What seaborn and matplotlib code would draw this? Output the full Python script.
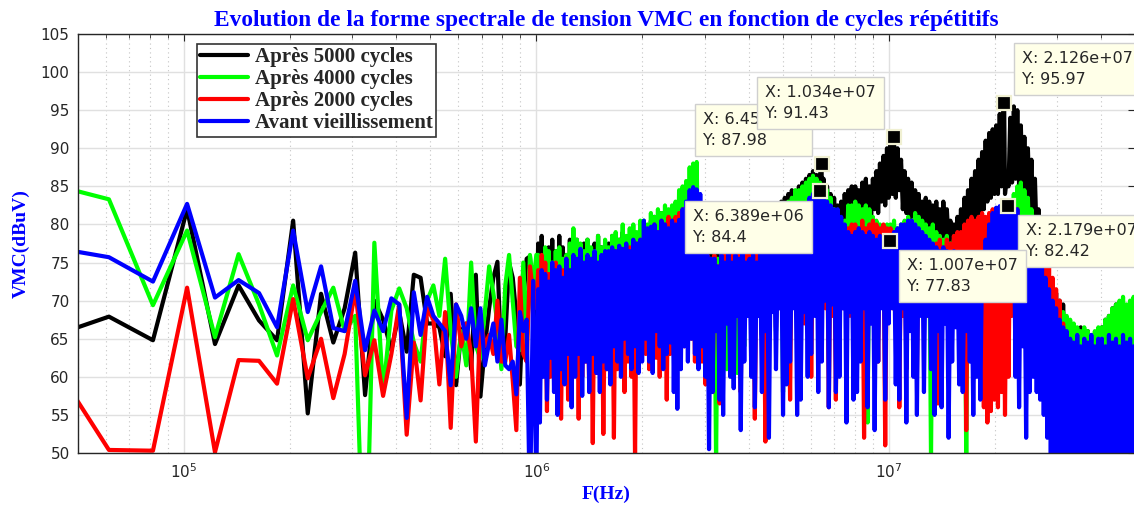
import numpy as np
import pandas as pd
import matplotlib
matplotlib.use("Agg")
import matplotlib.pyplot as plt
import seaborn as sns

SERIES = ["Après 5000 cycles", "Après 4000 cycles", "Après 2000 cycles", "Avant vieillissement"]
COLORS = ["#000000", "#00ff00", "#ff0000", "#0000ff"]

# Low-frequency harmonics: FFT bins k = 2..49, 20.4 kHz resolution
BIN_HZ = 20.4e3
LOW_BINS = np.arange(2, 50)

black_low = [65.1, 67.9, 64.8, 82.0, 64.3, 72.0, 67.4, 64.8, 80.5, 55.2,
             70.9, 64.5, 69.0, 76.3, 57.6, 70.0, 67.5, 63.5, 68.5, 63.3,
             73.4, 73.0, 67.0, 67.0, 66.5, 62.7, 70.9, 58.9, 66.0, 67.0,
             61.0, 73.4, 57.4, 64.0, 69.0, 73.0, 75.1, 62.1, 65.0, 75.0,
             73.0, 68.0, 59.0, 70.0, 75.5, 75.8, 68.0, 65.0]
green_low = [85.4, 83.3, 69.4, 79.2, 65.2, 76.1, 69.5, 62.8, 72.0, 64.8,
             68.5, 71.7, 66.0, 68.0, 28.0, 77.6, 58.0, 68.7, 71.6, 69.0,
             64.5, 62.0, 70.0, 72.0, 68.0, 75.5, 66.0, 60.0, 66.0, 61.5,
             75.0, 64.0, 62.5, 68.5, 74.5, 71.0, 67.0, 61.0, 72.0, 76.0,
             70.0, 64.0, 63.5, 75.0, 64.0, 76.0, 72.0, 76.0]
red_low = [63.1, 50.4, 50.3, 71.7, 50.1, 62.2, 62.1, 59.1, 70.2, 59.8,
           65.0, 57.2, 63.0, 71.4, 60.2, 64.8, 57.5, 63.0, 69.5, 52.4,
           64.5, 56.9, 69.0, 67.5, 59.0, 68.5, 53.3, 69.5, 64.0, 67.0,
           63.0, 51.5, 67.8, 64.0, 65.5, 63.0, 70.0, 62.0, 62.0, 65.5,
           59.5, 53.0, 73.0, 63.0, 62.0, 74.5, 71.0, 69.0]
blue_low = [77.1, 75.7, 72.5, 82.7, 70.4, 72.7, 71.0, 66.5, 79.2, 68.5,
            74.5, 66.4, 66.0, 72.6, 63.5, 68.7, 66.0, 70.3, 69.5, 54.6,
            71.1, 65.5, 70.5, 68.0, 67.0, 66.0, 58.9, 69.5, 68.0, 65.0,
            69.0, 64.0, 69.0, 61.5, 64.5, 67.0, 62.0, 67.5, 61.5, 61.0,
            62.0, 57.7, 68.5, 66.0, 67.5, 42.0, 72.6, 45.0]

# High-frequency part: one value every 0.005 decade, 10^6.005 Hz .. 10^7.70 Hz
# (each row below covers one tenth of a decade)
HF_LOG10 = 6.005 + 0.005 * np.arange(340)

black_hf = [
    77.5, 66.0, 78.5, 68.0, 76.0, 65.0, 77.0, 69.0, 78.0, 66.5, 76.5, 67.0, 78.5, 65.5, 77.0, 68.5, 76.0, 66.0, 78.0, 67.5,
    77.0, 66.0, 78.0, 68.5, 76.5, 65.0, 77.5, 67.0, 78.0, 66.5, 76.0, 68.0, 77.5, 65.5, 78.5, 67.0, 77.0, 69.0, 76.5, 66.0,
    77.5, 68.0, 78.5, 67.0, 77.0, 69.5, 78.0, 68.0, 79.0, 70.0, 77.5, 67.5, 78.5, 69.0, 79.0, 68.5, 78.0, 70.0, 79.5, 69.0,
    80.0, 71.0, 79.5, 70.5, 80.5, 72.0, 81.0, 71.0, 80.0, 72.5, 81.5, 71.5, 80.5, 73.0, 81.0, 72.0, 82.0, 72.5, 81.5, 73.0,
    81.5, 73.0, 82.0, 72.0, 82.5, 74.0, 81.0, 73.0, 82.0, 72.5, 81.5, 73.5, 80.5, 72.0, 79.0, 71.0, 78.0, 70.0, 77.0, 69.5,
    76.5, 70.0, 77.5, 69.5, 77.0, 71.0, 78.0, 70.0, 77.0, 71.5, 78.0, 70.5, 78.5, 72.0, 77.5, 71.0, 78.5, 72.5, 79.0, 71.5,
    79.5, 72.0, 80.0, 73.0, 80.5, 72.5, 80.0, 74.0, 81.0, 73.0, 81.5, 74.5, 81.0, 74.0, 82.0, 75.0, 82.5, 74.5, 83.0, 76.0,
    83.5, 76.5, 84.0, 77.0, 84.5, 78.0, 84.0, 77.5, 85.0, 78.5, 85.5, 79.0, 86.0, 79.5, 86.5, 80.0, 87.0, 80.5, 86.5, 81.0,
    86.5, 80.0, 86.0, 81.0, 85.0, 80.5, 84.0, 79.0, 83.5, 78.5, 82.5, 79.0, 83.0, 78.0, 84.0, 79.5, 84.5, 78.5, 85.0, 79.0,
    85.0, 79.5, 84.5, 80.0, 85.5, 81.0, 86.0, 80.5, 85.0, 81.0, 86.0, 82.0, 87.0, 81.5, 88.0, 83.0, 89.0, 82.5, 90.0, 83.5,
    90.5, 84.0, 91.0, 83.5, 90.0, 84.5, 88.5, 82.0, 87.0, 81.5, 86.0, 80.5, 85.5, 81.0, 84.5, 80.0, 84.0, 79.5, 83.0, 80.0,
    83.5, 78.0, 83.0, 77.5, 82.5, 79.0, 83.0, 78.0, 82.0, 77.0, 83.0, 78.5, 82.0, 77.5, 80.5, 76.5, 80.0, 77.0, 81.0, 76.5,
    82.0, 77.0, 83.5, 78.0, 84.5, 79.0, 86.0, 80.0, 87.0, 80.5, 88.5, 81.5, 89.5, 82.0, 91.0, 83.0, 92.0, 83.5, 92.5, 84.0,
    93.0, 84.0, 94.5, 85.0, 95.0, 84.0, 86.0, 85.0, 94.0, 85.5, 95.5, 86.0, 95.0, 85.0, 93.0, 84.0, 91.5, 83.0, 90.0, 82.0,
    88.5, 81.0, 86.0, 78.0, 82.0, 75.0, 77.0, 72.0, 74.0, 68.0, 72.0, 66.0, 71.5, 64.0, 71.0, 63.0, 70.0, 62.0, 69.5, 61.0,
    67.5, 61.0, 67.0, 60.0, 66.5, 61.5, 66.0, 59.5, 66.5, 60.0, 65.5, 61.0, 66.0, 60.5, 65.0, 59.0, 65.5, 60.0, 66.0, 61.0,
    66.5, 60.0, 67.5, 61.0, 68.0, 62.0, 69.0, 61.5, 69.5, 62.0, 68.5, 61.0, 69.0, 62.5, 68.0, 61.0, 68.5, 62.0, 67.5, 61.0]
green_hf = [
    76.0, 63.0, 75.5, 65.0, 77.0, 62.0, 76.5, 64.5, 75.0, 63.5, 76.5, 61.5, 77.0, 64.0, 75.5, 66.0, 76.0, 62.5, 77.5, 64.0,
    79.5, 65.0, 78.0, 62.5, 77.5, 66.0, 76.5, 63.0, 78.0, 65.0, 77.0, 64.0, 76.5, 62.0, 78.5, 65.5, 77.0, 63.5, 78.0, 66.0,
    77.0, 64.0, 78.5, 66.5, 79.0, 65.0, 78.0, 67.0, 80.0, 66.0, 78.5, 64.5, 79.5, 67.0, 80.0, 65.5, 79.0, 68.0, 80.5, 66.5,
    80.5, 68.0, 80.0, 67.5, 81.5, 69.0, 81.0, 67.0, 82.0, 68.5, 81.5, 70.0, 82.5, 69.0, 82.0, 68.0, 82.5, 70.5, 83.0, 69.5,
    84.5, 70.0, 85.0, 71.0, 85.7, 70.5, 87.5, 71.5, 88.0, 72.0, 88.2, 70.0, 80.0, 68.0, 76.0, 60.0, 75.0, 66.0, 74.5, 62.0,
    75.0, 49.0, 75.5, 64.0, 76.0, 67.0, 74.5, 61.0, 76.5, 68.0, 75.0, 65.0, 76.0, 60.5, 77.0, 67.5, 76.5, 64.0, 77.5, 69.0,
    78.0, 69.0, 78.5, 66.0, 79.5, 71.0, 78.5, 65.5, 79.0, 70.0, 80.0, 67.0, 80.5, 72.0, 81.0, 66.0, 81.5, 70.5, 82.0, 58.0,
    82.5, 72.0, 83.0, 73.5, 83.5, 71.0, 84.5, 74.0, 84.5, 72.5, 85.0, 75.0, 85.5, 73.0, 86.0, 74.5, 86.4, 75.0, 86.0, 74.0,
    85.5, 75.0, 85.0, 76.0, 84.5, 74.0, 83.5, 75.5, 82.0, 73.0, 80.0, 72.0, 79.0, 73.5, 80.5, 74.0, 82.5, 75.0, 82.5, 73.0,
    83.0, 76.0, 82.5, 74.0, 82.0, 75.5, 82.5, 54.0, 82.0, 74.0, 81.0, 75.0, 80.5, 73.5, 80.0, 74.5, 79.5, 73.0, 80.0, 74.0,
    80.0, 74.0, 80.5, 73.0, 79.5, 74.5, 80.0, 72.5, 80.5, 75.0, 81.0, 73.0, 80.5, 74.0, 81.5, 72.0, 81.0, 74.5, 80.5, 73.0,
    80.0, 73.5, 79.5, 49.0, 80.0, 72.0, 79.0, 71.5, 78.5, 73.0, 78.0, 70.0, 78.5, 72.0, 77.5, 71.0, 78.0, 70.5, 77.5, 71.0,
    78.5, 72.0, 79.5, 49.0, 80.0, 73.0, 80.5, 72.5, 79.5, 74.0, 80.0, 73.0, 79.5, 74.5, 80.0, 75.0, 80.5, 74.0, 81.0, 75.0,
    81.0, 74.0, 81.5, 75.0, 82.0, 76.0, 82.5, 75.5, 83.0, 76.5, 84.0, 75.5, 85.0, 77.0, 85.5, 76.0, 84.5, 77.0, 83.5, 76.0,
    82.0, 74.5, 80.0, 73.0, 77.0, 71.0, 74.0, 67.0, 71.5, 64.0, 71.0, 56.5, 70.5, 63.0, 69.5, 62.0, 69.0, 61.5, 68.5, 62.0,
    68.0, 61.5, 67.5, 62.0, 67.0, 60.5, 66.5, 61.0, 66.0, 62.0, 66.5, 61.0, 66.0, 60.5, 65.5, 61.5, 66.0, 62.0, 66.5, 61.0,
    66.5, 61.0, 67.5, 63.0, 68.0, 62.0, 69.0, 62.5, 69.5, 63.5, 70.0, 63.0, 70.5, 62.0, 69.5, 63.0, 70.0, 62.5, 70.5, 62.0]
red_hf = [
    74.0, 59.0, 76.0, 62.0, 75.0, 55.5, 73.5, 60.0, 74.5, 61.0, 75.0, 58.0, 73.5, 54.5, 74.0, 62.0, 75.5, 57.0, 74.0, 60.0,
    73.5, 61.0, 74.5, 54.5, 75.0, 60.0, 74.0, 62.0, 73.0, 58.0, 74.5, 51.3, 75.0, 60.5, 73.5, 62.0, 75.5, 52.5, 74.0, 61.0,
    76.0, 60.0, 75.5, 52.0, 76.5, 61.0, 77.0, 63.0, 75.5, 58.0, 76.5, 62.0, 77.0, 60.0, 76.5, 49.0, 77.5, 62.0, 78.0, 64.0,
    78.0, 63.0, 79.0, 61.0, 79.5, 64.0, 80.0, 62.5, 79.0, 60.0, 80.5, 64.5, 80.0, 57.0, 81.0, 63.0, 80.5, 65.0, 81.0, 62.0,
    81.5, 66.0, 82.0, 64.0, 81.5, 67.0, 82.0, 65.0, 81.0, 62.0, 80.0, 64.0, 78.0, 62.0, 77.0, 59.0, 76.0, 61.0, 75.5, 58.0,
    76.0, 67.0, 74.5, 56.5, 75.5, 68.0, 76.0, 69.0, 75.0, 66.5, 76.0, 68.0, 75.5, 70.0, 76.5, 58.0, 76.0, 67.0, 76.5, 68.5,
    76.5, 68.0, 77.0, 54.5, 76.5, 69.0, 77.0, 67.0, 76.0, 51.5, 77.5, 68.5, 77.0, 70.0, 78.0, 66.5, 77.5, 69.0, 78.5, 68.0,
    78.5, 69.0, 79.0, 57.0, 79.5, 70.0, 79.0, 68.0, 80.0, 69.5, 79.5, 67.0, 80.0, 70.5, 80.5, 60.0, 80.5, 69.0, 81.0, 70.0,
    81.0, 70.0, 80.5, 69.0, 80.0, 56.0, 79.5, 68.0, 79.0, 57.0, 78.5, 70.0, 79.0, 69.0, 79.5, 71.0, 79.5, 68.0, 80.0, 70.0,
    80.0, 69.0, 79.5, 70.0, 80.5, 52.0, 79.5, 68.5, 80.0, 70.0, 80.5, 69.0, 80.0, 62.0, 79.5, 70.0, 80.0, 51.0, 79.5, 69.0,
    79.5, 69.0, 79.0, 70.0, 78.5, 56.0, 79.5, 68.0, 80.0, 61.0, 79.5, 69.5, 79.0, 70.0, 78.5, 60.0, 79.0, 69.0, 78.0, 68.0,
    78.0, 68.0, 77.5, 69.0, 77.0, 57.0, 77.5, 56.5, 78.0, 68.0, 77.0, 69.5, 78.0, 61.0, 77.5, 68.0, 78.5, 70.0, 79.0, 67.0,
    79.0, 69.0, 80.0, 53.0, 80.5, 68.0, 81.0, 67.0, 80.5, 69.0, 81.0, 66.0, 81.5, 56.0, 81.0, 54.0, 81.5, 55.5, 82.0, 57.0,
    82.0, 56.0, 81.5, 58.0, 82.0, 55.0, 81.5, 60.0, 82.0, 68.0, 81.5, 69.0, 82.0, 67.5, 80.5, 68.0, 79.5, 63.0, 79.0, 66.0,
    78.0, 61.0, 77.5, 60.0, 77.0, 58.5, 76.5, 57.0, 76.0, 55.0, 74.5, 53.5, 73.0, 52.0, 71.5, 50.0, 70.0, 48.0, 67.0, 47.0,
    63.0, 45.0, 62.0, 44.0, 62.5, 43.0, 61.5, 45.0, 62.0, 44.0, 61.0, 43.0, 62.0, 44.5, 61.5, 45.0, 61.0, 44.0, 60.5, 43.0,
    60.5, 45.0, 61.0, 44.0, 60.0, 43.5, 61.5, 45.0, 60.0, 44.0, 61.0, 43.0, 60.5, 44.5, 61.5, 45.0, 60.0, 44.0, 61.0, 43.0]
blue_hf = [
    71.5, 54.0, 74.0, 60.0, 73.5, 57.0, 72.5, 62.5, 75.0, 58.0, 74.0, 55.0, 74.5, 61.0, 73.0, 59.0, 75.5, 63.0, 74.0, 56.0,
    76.0, 60.0, 75.5, 63.0, 76.8, 57.5, 75.0, 62.0, 76.0, 58.0, 75.5, 63.0, 76.5, 60.5, 75.0, 58.0, 76.0, 62.0, 76.5, 61.0,
    76.5, 59.0, 77.0, 64.0, 76.5, 62.0, 77.2, 60.0, 76.8, 65.0, 77.5, 63.0, 76.5, 61.0, 78.0, 64.0, 77.5, 60.5, 78.0, 62.0,
    80.5, 65.0, 79.5, 62.0, 79.7, 60.5, 80.0, 66.0, 79.0, 64.0, 80.5, 61.0, 80.0, 63.0, 79.5, 64.5, 80.5, 58.0, 80.0, 55.8,
    80.6, 61.0, 82.0, 64.0, 83.0, 62.0, 84.5, 65.0, 84.9, 63.0, 84.6, 61.0, 84.0, 64.0, 78.0, 60.0, 76.0, 50.5, 75.5, 58.0,
    75.5, 66.0, 74.5, 57.0, 76.0, 55.0, 75.0, 67.0, 76.5, 60.0, 75.0, 58.5, 76.0, 68.0, 75.5, 53.0, 76.5, 62.0, 75.0, 68.0,
    75.5, 60.0, 76.0, 56.0, 75.0, 68.0, 76.5, 58.0, 77.0, 66.0, 76.0, 52.0, 76.5, 68.5, 77.0, 61.0, 76.0, 69.0, 77.5, 55.0,
    76.5, 59.0, 77.0, 62.0, 76.0, 69.0, 77.5, 55.0, 77.0, 57.0, 76.5, 68.5, 77.5, 60.0, 83.5, 63.0, 84.0, 68.0, 84.2, 58.0,
    84.3, 62.0, 84.0, 70.0, 83.0, 56.0, 82.5, 69.5, 82.0, 58.0, 82.0, 60.0, 81.0, 69.0, 80.0, 54.0, 79.0, 68.5, 78.5, 57.0,
    79.0, 58.0, 79.5, 62.0, 79.0, 69.0, 78.5, 56.0, 79.0, 67.0, 78.5, 53.0, 78.0, 62.0, 78.5, 69.0, 78.0, 57.0, 77.5, 67.0,
    78.5, 69.0, 79.0, 59.0, 79.5, 57.0, 80.0, 69.0, 80.0, 54.0, 80.5, 66.0, 80.5, 60.0, 80.0, 55.0, 79.5, 68.0, 79.0, 58.0,
    78.5, 68.0, 78.0, 61.0, 77.5, 55.0, 77.0, 66.0, 76.5, 56.0, 77.0, 67.0, 76.5, 52.0, 76.0, 62.0, 76.5, 66.5, 76.0, 59.0,
    76.0, 58.0, 75.0, 66.0, 74.5, 62.0, 74.0, 55.0, 73.5, 60.0, 74.0, 57.0, 76.0, 70.0, 78.0, 71.0, 80.0, 70.5, 81.5, 72.0,
    82.2, 72.0, 82.4, 71.0, 82.3, 72.5, 82.5, 71.0, 82.4, 72.0, 82.2, 60.0, 82.0, 56.0, 80.5, 64.0, 79.5, 52.0, 78.5, 58.0,
    77.5, 60.0, 76.5, 58.0, 75.5, 57.0, 74.5, 55.0, 73.0, 52.0, 71.5, 50.0, 70.0, 46.0, 69.0, 44.0, 67.5, 42.0, 66.5, 41.0,
    66.0, 40.0, 65.0, 41.0, 64.5, 40.0, 65.5, 41.0, 64.0, 40.0, 65.0, 41.0, 64.5, 40.0, 65.5, 41.0, 64.0, 40.0, 65.0, 41.0,
    65.0, 41.0, 64.0, 40.0, 65.5, 41.0, 64.5, 40.0, 65.0, 41.0, 64.0, 40.0, 65.5, 41.0, 64.5, 40.0, 65.0, 41.0, 64.0, 40.0]

# Data tips: owning series, frequency (Hz), level (dBuV)
tip_series = [0, 0, 0, 3, 3, 3]
tip_f = [6.45e6, 1.034e7, 2.126e7, 6.389e6, 1.007e7, 2.179e7]
tip_v = [87.98, 91.43, 95.97, 84.4, 77.83, 82.42]

low_vals = [black_low, green_low, red_low, blue_low]
hf_vals = [black_hf, green_hf, red_hf, blue_hf]

frames = []
for s, name in enumerate(SERIES):
    extra_f = [f for f, k in zip(tip_f, tip_series) if k == s]
    extra_v = [v for v, k in zip(tip_v, tip_series) if k == s]
    f = np.concatenate([LOW_BINS * BIN_HZ, 10.0 ** HF_LOG10, extra_f])
    v = np.concatenate([low_vals[s], hf_vals[s], extra_v])
    frames.append(pd.DataFrame({"F": f, "VMC": v, "serie": name}))
df = pd.concat(frames, ignore_index=True)

sns.set_theme(style="white")
plt.rcParams["font.family"] = ["DejaVu Sans"]

fig = plt.figure(figsize=(11.34, 5.07), dpi=100)
ax = fig.add_axes([78 / 1134, 54 / 507, 1057 / 1134, 419 / 507])
ax.set_xscale("log")

sns.lineplot(data=df, x="F", y="VMC", hue="serie", hue_order=SERIES,
             palette=COLORS, estimator=None, sort=True, linewidth=3, ax=ax)

ax.set_xlim(5e4, 5e7)
ax.set_ylim(50, 105)
ax.set_yticks(np.arange(50, 106, 5))

ax.set_axisbelow(True)
ax.grid(which="major", color="#e0e0e0", linewidth=1.0, linestyle="-")
ax.grid(which="minor", axis="x", color="#c4c4c4", linewidth=0.8, linestyle=(0, (1, 3)))

ax.tick_params(which="both", direction="in", top=True, right=True,
               colors="#262626", labelsize=11)
ax.tick_params(which="major", length=5, width=0.8)
ax.tick_params(which="minor", length=3, width=0.6)
ax.tick_params(axis="x", which="both", pad=7)
ax.tick_params(axis="y", pad=6)
for sp in ax.spines.values():
    sp.set_color("#262626")
    sp.set_linewidth(1.0)

serif_bold = dict(family="Liberation Serif", weight="bold", color="#0000ff")
ax.set_title("Evolution de la forme spectrale de tension VMC en fonction de cycles répétitifs",
             fontsize=16.8, pad=6, **serif_bold)
ax.set_xlabel("F(Hz)", fontsize=14, labelpad=3, **serif_bold)
ax.set_ylabel("VMC(dBuV)", fontsize=14, labelpad=8, **serif_bold)

old = ax.get_legend()
handles = old.legend_handles
labels = [t.get_text() for t in old.get_texts()]
old.remove()
leg = ax.legend(handles, labels, loc="upper left",
                bbox_to_anchor=(197 / 1134, 1 - 44 / 507), bbox_transform=fig.transFigure,
                prop=dict(family="Liberation Serif", weight="bold", size=15),
                frameon=True, fancybox=False, framealpha=1, edgecolor="#333333",
                borderpad=0.15, labelspacing=0.1, handlelength=2.3,
                handletextpad=0.35, borderaxespad=0)
leg.get_frame().set_linewidth(1.2)
for ln in leg.get_lines():
    ln.set_linewidth(3)

# data-tip markers and boxes
ax.plot(tip_f, tip_v, linestyle="none", marker="s", markersize=9.5,
        markerfacecolor="black", markeredgecolor="#f0f0d2", markeredgewidth=1.6,
        zorder=5, clip_on=False)
tip_layout = [("right", "bottom", -18, 16, 10),
              ("right", "bottom", -18, 16, 11),
              ("left", "bottom", 18, 16, 12),
              ("right", "top", -16, -18, 13),
              ("left", "top", 17, -17, 15),
              ("left", "top", 18, -17, 14)]
for f, v, (ha, va, dx, dy, z) in zip(tip_f, tip_v, tip_layout):
    ax.annotate(f"X: {f:.4g}\nY: {v:.4g}", xy=(f, v), xytext=(dx, dy),
                textcoords="offset pixels", ha=ha, va=va, multialignment="left",
                fontsize=11.5, family="DejaVu Sans", color="#262626", linespacing=1.5,
                bbox=dict(boxstyle="square,pad=0.5", fc="#ffffe8", ec="#cfcfcf", lw=1),
                zorder=z, annotation_clip=False)

fig.savefig("out.png", dpi=100)
